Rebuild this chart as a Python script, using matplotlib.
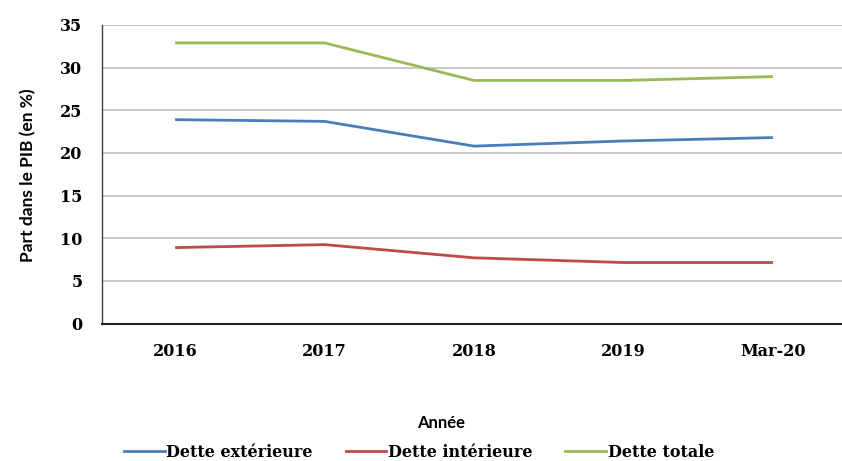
import matplotlib
matplotlib.use("Agg")
import matplotlib.pyplot as plt
from matplotlib.lines import Line2D

categories = ["2016", "2017", "2018", "2019", "Mar-20"]
dette_exterieure = [23.9, 23.7, 20.8, 21.4, 21.8]
dette_interieure = [8.9, 9.25, 7.7, 7.15, 7.15]
dette_totale = [32.9, 32.9, 28.5, 28.5, 28.95]
yticks = [0, 5, 10, 15, 20, 25, 30, 35]

W, H = 842, 461
fig = plt.figure(figsize=(W / 100, H / 100), dpi=100)
left, right, top, bottom = 102, 842, 25, 323.5
ax = fig.add_axes([left / W, 1 - bottom / H, (right - left) / W, (bottom - top) / H])

x = list(range(len(categories)))
c_blue, c_red, c_green = "#4A7EBB", "#BE4B48", "#98B954"
ax.plot(x, dette_exterieure, color=c_blue, lw=2.0, solid_capstyle="butt")
ax.plot(x, dette_interieure, color=c_red, lw=2.0, solid_capstyle="butt")
ax.plot(x, dette_totale, color=c_green, lw=2.0, solid_capstyle="butt")

ax.set_xlim(-0.489, 4.462)
ax.set_ylim(0, 35)
ax.set_yticks(yticks)
ax.set_xticks(x)
ax.set_xticklabels(categories)
ax.yaxis.grid(True, color="#C0C0C0", lw=1.2)
ax.set_axisbelow(True)
for s in ["top", "right"]:
    ax.spines[s].set_visible(False)
ax.spines["left"].set_color("#404040")
ax.spines["left"].set_linewidth(1.0)
ax.spines["bottom"].set_color("#202020")
ax.spines["bottom"].set_linewidth(1.5)
ax.tick_params(length=0)
ax.tick_params(axis="y", pad=14)
ax.tick_params(axis="x", pad=14)
for lab in ax.get_yticklabels() + ax.get_xticklabels():
    lab.set_fontfamily("DejaVu Serif")
    lab.set_fontweight("bold")
    lab.set_fontsize(11.5)

fig.text(28 / W, 1 - 175 / H, "Part dans le PIB (en %)", rotation=90, ha="center", va="center",
         fontfamily="Lato", fontweight="bold", fontsize=12.5)
fig.text(441 / W, 1 - 423 / H, "Année", ha="center", va="center",
         fontfamily="Lato", fontweight="bold", fontsize=12)

handles = [Line2D([], [], color=c_blue, lw=2.0),
           Line2D([], [], color=c_red, lw=2.0),
           Line2D([], [], color=c_green, lw=2.0)]
labels = ["Dette extérieure", "Dette intérieure", "Dette totale"]
fig.legend(handles, labels, loc="center", bbox_to_anchor=(419 / W, 1 - 452 / H), ncol=3,
           frameon=False, handlelength=2.55, handletextpad=0.1, columnspacing=2.05,
           prop={"family": "DejaVu Serif", "weight": "bold", "size": 11.5})

fig.savefig("out.png", dpi=100)
